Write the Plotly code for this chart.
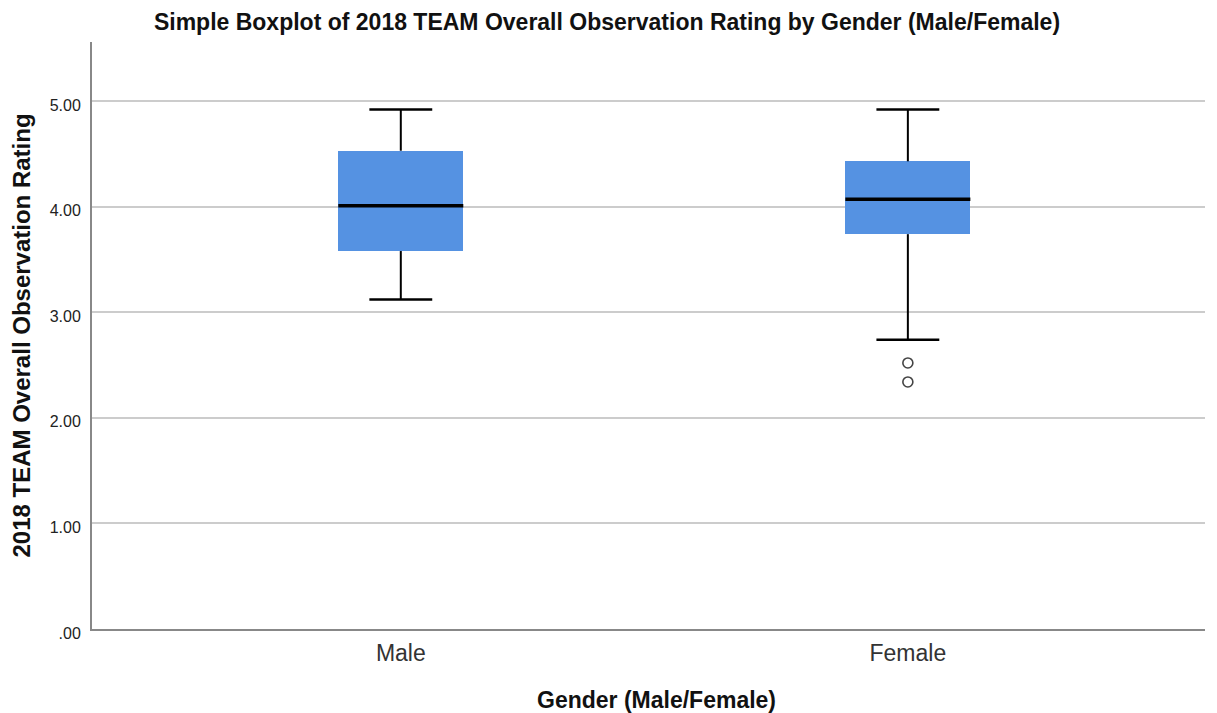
import plotly.graph_objects as go

categories = ["Male", "Female"]
lower_whisker = [3.12, 2.74]
q1 = [3.58, 3.74]
median = [4.01, 4.07]
q3 = [4.53, 4.43]
upper_whisker = [4.92, 4.92]
outlier_cat = [1, 1]
outlier_vals = [2.52, 2.34]

y_tickvals = [0, 1, 2, 3, 4, 5]
y_ticktext = [".00", "1.00", "2.00", "3.00", "4.00", "5.00"]

FONT = "Liberation Sans, Arial, sans-serif"
BOX_W = 0.2465
CAP_HALF = 0.062
BLUE = "#5592e2"

# page has an 8px body margin; figure occupies (8,8)-(1217,713)
W, H = 1209, 705
OFF = 8

xs = list(range(len(categories)))

fig = go.Figure()

# boxes
fig.add_trace(go.Bar(
    x=xs, y=[b - a for a, b in zip(q1, q3)], base=q1, width=BOX_W,
    marker=dict(color=BLUE, line=dict(width=0)), showlegend=False, hoverinfo="skip"))

# whiskers (vertical) and caps
wx, wy = [], []
cx, cy = [], []
for i in xs:
    wx += [i, i, None, i, i, None]
    wy += [q3[i], upper_whisker[i], None, q1[i], lower_whisker[i], None]
    cx += [i - CAP_HALF, i + CAP_HALF, None, i - CAP_HALF, i + CAP_HALF, None]
    cy += [upper_whisker[i], upper_whisker[i], None, lower_whisker[i], lower_whisker[i], None]
fig.add_trace(go.Scatter(x=wx, y=wy, mode="lines", line=dict(color="black", width=2),
                         showlegend=False, hoverinfo="skip"))
fig.add_trace(go.Scatter(x=cx, y=cy, mode="lines", line=dict(color="black", width=2.5),
                         showlegend=False, hoverinfo="skip"))

# medians
mx, my = [], []
for i in xs:
    mx += [i - BOX_W / 2, i + BOX_W / 2, None]
    my += [median[i], median[i], None]
fig.add_trace(go.Scatter(x=mx, y=my, mode="lines", line=dict(color="black", width=3.5),
                         showlegend=False, hoverinfo="skip"))

# outliers
fig.add_trace(go.Scatter(x=outlier_cat, y=outlier_vals, mode="markers",
                         marker=dict(symbol="circle-open", size=10, color="#444",
                                     line=dict(width=1.6)),
                         showlegend=False, hoverinfo="skip"))

fig.add_annotation(text="<b>Gender (Male/Female)</b>", xref="paper", yref="paper",
                   x=(656 - 92) / 1113, y=-(700 - 629) / 587, xanchor="center", yanchor="middle",
                   showarrow=False, font=dict(size=23, color="#111", family=FONT))

fig.update_layout(
    width=W, height=H,
    margin=dict(l=92 - OFF, r=12, t=42 - OFF, b=84),
    paper_bgcolor="white", plot_bgcolor="white",
    font=dict(family=FONT, color="#222"),
    title=dict(text="<b>Simple Boxplot of 2018 TEAM Overall Observation Rating by Gender (Male/Female)</b>",
               x=(607 - OFF) / W, xanchor="center", y=1 - (22 - OFF) / H, yanchor="middle",
               font=dict(size=23, color="#111")),
    xaxis=dict(range=[-0.609, 1.586], tickvals=xs, ticktext=categories,
               tickfont=dict(size=23, color="#333"), showgrid=False, zeroline=False,
               showline=True, linecolor="#888", linewidth=2, ticks="", ticklabelstandoff=2),
    yaxis=dict(range=[0, 5.56], tickvals=y_tickvals, ticktext=y_ticktext,
               tickfont=dict(size=16, color="#222"), showgrid=True, gridcolor="#cccccc",
               gridwidth=2, zeroline=False, showline=True, linecolor="#888", linewidth=2,
               ticks="", ticklabelstandoff=6, ticklabelshift=4,
               title=dict(text="<b>2018 TEAM Overall Observation Rating</b>",
                          font=dict(size=24, color="#111"), standoff=14)),
    bargap=0,
)

fig.write_html("out.html")
